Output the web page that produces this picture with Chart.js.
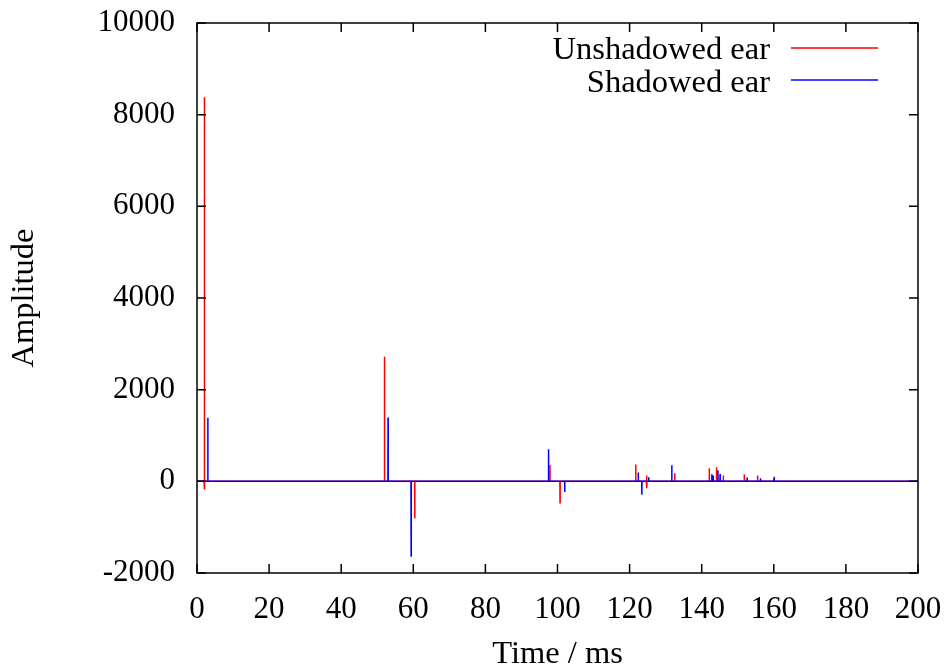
<!DOCTYPE html>
<html>
<head>
<meta charset="utf-8">
<script src="https://cdn.jsdelivr.net/npm/chart.js@4.4.0/dist/chart.umd.min.js"></script>
<style>
  html, body { margin: 0; padding: 0; background: #fff; }
  #wrap { width: 948px; height: 671px; }
</style>
</head>
<body>
<div id="wrap"><canvas id="chart" width="948" height="671"></canvas></div>
<script>
// spike positions (ms) and amplitudes
const redSpikeTimes = [2.0, 2.1, 52.0, 60.4, 97.9, 100.7, 121.7, 124.7, 124.8, 132.5, 142.1, 144.1, 146.0, 151.8, 155.5, 160.0];
const redSpikeValues = [8380, -180, 2720, -810, 355, -465, 370, 130, -150, 175, 285, 305, 125, 150, 130, 60];

const blueSpikeTimes = [3.0, 53.0, 59.4, 97.5, 102.0, 122.4, 123.4, 125.3, 131.7, 142.8, 143.2, 144.5, 145.1, 152.6, 156.3, 160.1];
const blueSpikeValues = [1390, 1390, -1630, 700, -235, 195, -290, 90, 350, 155, 125, 240, 160, 85, 65, 100];

const seriesLabels = ['Unshadowed ear', 'Shadowed ear'];
const seriesColors = ['#ff0000', '#0000ff'];
const xTitle = 'Time / ms';
const yTitle = 'Amplitude';

const FONT = '"Liberation Serif", "DejaVu Serif", serif';
const TEXT_SIZE = 32.5;
const TICK_SIZE = 31;

// impulse train: baseline at zero with one sample per spike
function buildSeries(times, values) {
    const pts = [{ x: 0, y: 0 }];
    times.forEach((t, i) => {
        pts.push({ x: t - 0.04, y: 0 });
        pts.push({ x: t, y: values[i] });
        pts.push({ x: t + 0.04, y: 0 });
    });
    pts.push({ x: 200, y: 0 });
    return pts;
}

// gnuplot style frame, inward ticks on all sides, legend top right
const framePlugin = {
    id: 'frame',
    afterDraw(chart) {
        const { ctx, chartArea: a, scales } = chart;
        const len = 9;
        ctx.save();
        ctx.strokeStyle = '#000';
        ctx.lineWidth = 1.5;
        ctx.beginPath();
        scales.x.ticks.forEach(t => {
            const px = scales.x.getPixelForValue(t.value);
            ctx.moveTo(px, a.bottom); ctx.lineTo(px, a.bottom - len);
            ctx.moveTo(px, a.top); ctx.lineTo(px, a.top + len);
        });
        scales.y.ticks.forEach(t => {
            const py = scales.y.getPixelForValue(t.value);
            ctx.moveTo(a.left, py); ctx.lineTo(a.left + len, py);
            ctx.moveTo(a.right, py); ctx.lineTo(a.right - len, py);
        });
        ctx.stroke();
        ctx.strokeRect(a.left, a.top, a.right - a.left, a.bottom - a.top);

        // legend
        ctx.font = TEXT_SIZE + 'px ' + FONT;
        ctx.textAlign = 'right';
        ctx.textBaseline = 'alphabetic';
        seriesLabels.forEach((label, i) => {
            const base = 59 + i * 32.5;
            ctx.fillStyle = '#000';
            ctx.fillText(label, 770, base);
            ctx.strokeStyle = seriesColors[i];
            ctx.lineWidth = 1.5;
            ctx.beginPath();
            ctx.moveTo(791, Math.round(base - 11.5));
            ctx.lineTo(878, Math.round(base - 11.5));
            ctx.stroke();
        });
        ctx.restore();
    }
};

new Chart(document.getElementById('chart'), {
    type: 'scatter',
    data: {
        datasets: [{
            label: seriesLabels[0],
            data: buildSeries(redSpikeTimes, redSpikeValues),
            borderColor: seriesColors[0],
            backgroundColor: seriesColors[0],
            showLine: true,
            borderWidth: 1.5,
            pointRadius: 0,
            order: 1
        }, {
            label: seriesLabels[1],
            data: buildSeries(blueSpikeTimes, blueSpikeValues),
            borderColor: seriesColors[1],
            backgroundColor: seriesColors[1],
            showLine: true,
            borderWidth: 1.5,
            pointRadius: 0,
            order: 0
        }]
    },
    options: {
        responsive: false,
        animation: false,
        devicePixelRatio: 1,
        layout: { padding: { left: 0, right: 30, top: 23, bottom: 0 } },
        plugins: {
            legend: { display: false },
            tooltip: { enabled: false }
        },
        scales: {
            x: {
                type: 'linear',
                min: 0,
                max: 200,
                grid: { display: true, drawOnChartArea: false, drawTicks: true, tickLength: 18, color: 'rgba(0,0,0,0)' },
                border: { display: false },
                ticks: {
                    stepSize: 20,
                    padding: 0,
                    color: '#000',
                    font: { family: FONT, size: TICK_SIZE },
                    maxRotation: 0,
                    callback: v => String(v)
                },
                title: {
                    display: true,
                    text: xTitle,
                    color: '#000',
                    font: { family: FONT, size: TEXT_SIZE, lineHeight: 1 },
                    padding: { top: 0, bottom: 0 }
                },
                afterFit(scale) { scale.height = 98; }
            },
            y: {
                type: 'linear',
                min: -2000,
                max: 10000,
                grid: { display: true, drawOnChartArea: false, drawTicks: true, tickLength: 22, color: 'rgba(0,0,0,0)' },
                border: { display: false },
                ticks: {
                    stepSize: 2000,
                    padding: 0,
                    color: '#000',
                    font: { family: FONT, size: TICK_SIZE },
                    callback: v => String(v)
                },
                title: {
                    display: true,
                    text: yTitle,
                    color: '#000',
                    font: { family: FONT, size: TEXT_SIZE, lineHeight: 1 },
                    padding: { top: 8, bottom: 0 }
                },
                afterFit(scale) { scale.width = 197; }
            }
        }
    },
    plugins: [framePlugin]
});
</script>
</body>
</html>
